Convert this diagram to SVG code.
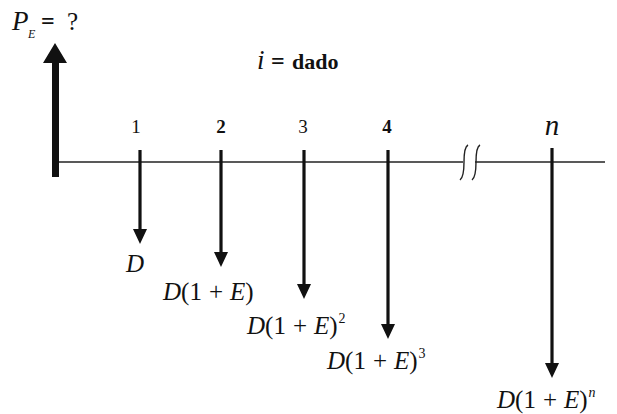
<svg xmlns="http://www.w3.org/2000/svg" width="617" height="414" viewBox="0 0 617 414">
<defs>
<style>
.t{font-family:"Liberation Serif","Times New Roman",serif;fill:#111}
.it{font-style:italic}
.b{font-weight:bold}
.lab{font-size:25px}
.num{font-size:19px}
.ax{stroke:#222;stroke-width:1.6;fill:none}
.flow{stroke:#111;stroke-width:3.2;fill:none;marker-end:url(#ah)}
.brk{stroke:#222;stroke-width:1.4;fill:none}
</style>
<marker id="ah" viewBox="0 0 15 14" markerUnits="userSpaceOnUse" markerWidth="15" markerHeight="14" refX="4" refY="7" orient="auto">
<path d="M0,0 L15,7 L0,14 Z" fill="#111"/>
</marker>
</defs>

<g id="connectors">
<line class="ax" x1="59" y1="162" x2="463" y2="162"/>
<line class="ax" x1="475" y1="162" x2="605" y2="162"/>
<path class="brk" d="M468,145 Q464,147 464,162 Q464,177 460,180"/>
<path class="brk" d="M480,145 Q476,147 476,162 Q476,177 472,180"/>
</g>

<g id="pv">
<polygon points="52,177 59,177 59,63 67,63 55,43 43,63 52,63" fill="#111"/>
<text class="t it" x="12" y="30" font-size="27">P</text>
<text class="t it" x="28" y="38" font-size="12">E</text>
<text class="t b" x="41" y="29" font-size="24">=</text>
<text class="t" x="67" y="30" font-size="25">?</text>
</g>

<g id="rate">
<text class="t it" x="257" y="69" font-size="27">i</text>
<text class="t b" x="271" y="69" font-size="24">=</text>
<text class="t b" x="292" y="69" font-size="22">dado</text>
</g>

<g id="p1">
<line class="flow" x1="140" y1="150" x2="140" y2="233"/>
<text class="t num" x="136" y="133" text-anchor="middle">1</text>
<text class="t lab it" x="126" y="272">D</text>
</g>

<g id="p2">
<line class="flow" x1="221" y1="150" x2="221" y2="256"/>
<text class="t num b" x="221" y="133" text-anchor="middle">2</text>
<text class="t lab" x="163" y="300"><tspan class="it">D</tspan>(1<tspan dx="7">+</tspan><tspan class="it" dx="7">E</tspan>)</text>
</g>

<g id="p3">
<line class="flow" x1="304" y1="150" x2="304" y2="288"/>
<text class="t num" x="303" y="133" text-anchor="middle">3</text>
<text class="t lab" x="247" y="334"><tspan class="it">D</tspan>(1<tspan dx="7">+</tspan><tspan class="it" dx="7">E</tspan>)<tspan font-size="14" dy="-11" dx="1">2</tspan></text>
</g>

<g id="p4">
<line class="flow" x1="388" y1="150" x2="388" y2="328"/>
<text class="t num b" x="387" y="133" text-anchor="middle">4</text>
<text class="t lab" x="327" y="369"><tspan class="it">D</tspan>(1<tspan dx="7">+</tspan><tspan class="it" dx="7">E</tspan>)<tspan font-size="14" dy="-11" dx="1">3</tspan></text>
</g>

<g id="pn">
<line class="flow" x1="552" y1="148" x2="552" y2="367"/>
<text class="t it" x="552" y="135" font-size="29" text-anchor="middle">n</text>
<text class="t lab" x="497" y="408"><tspan class="it">D</tspan>(1<tspan dx="7">+</tspan><tspan class="it" dx="7">E</tspan>)<tspan class="it" font-size="14" dy="-11" dx="1">n</tspan></text>
</g>
</svg>
